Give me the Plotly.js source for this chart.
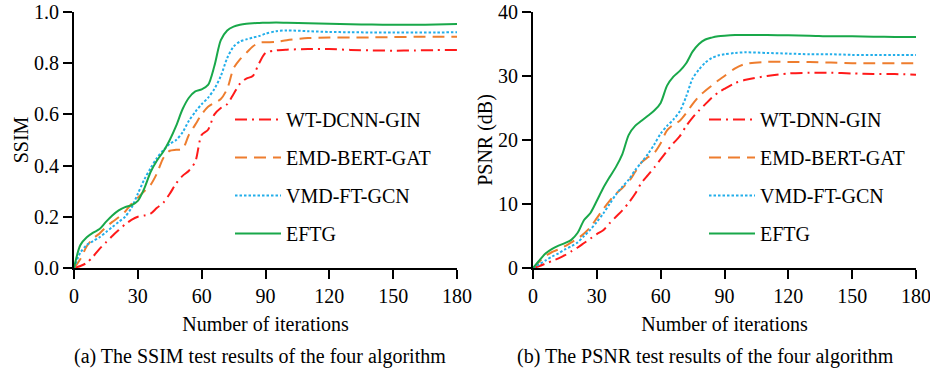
<!DOCTYPE html>
<html>
<head>
<meta charset="utf-8">
<script src="https://cdn.plot.ly/plotly-3.0.1.min.js"></script>
<style>html,body{margin:0;padding:0;background:#fff;}#chart{width:930px;height:370px;}</style>
</head>
<body>
<div id="chart"></div>
<script>
// Iterations (shared x positions)
const iterations = [0,3,6,9,12,15,18,21,24,27,30,33,36,39,42,45,48,51,54,57,60,63,66,69,72,75,78,81,84,87,90,95,100,110,120,130,140,150,160,170,180];

// (a) SSIM
const ssimWT   = [0,0.008,0.02,0.045,0.075,0.1,0.125,0.148,0.17,0.188,0.2,0.205,0.212,0.235,0.255,0.29,0.33,0.36,0.38,0.415,0.52,0.54,0.6,0.625,0.64,0.68,0.72,0.74,0.75,0.80,0.84,0.85,0.853,0.855,0.855,0.852,0.85,0.849,0.85,0.851,0.852];
const ssimEMD  = [0,0.035,0.085,0.115,0.135,0.16,0.18,0.198,0.22,0.25,0.275,0.3,0.325,0.37,0.43,0.458,0.462,0.465,0.52,0.56,0.6,0.63,0.645,0.66,0.70,0.78,0.815,0.84,0.865,0.88,0.882,0.883,0.89,0.898,0.90,0.90,0.901,0.902,0.903,0.903,0.903];
const ssimVMD  = [0,0.06,0.09,0.105,0.12,0.14,0.16,0.18,0.2,0.235,0.29,0.345,0.39,0.43,0.46,0.485,0.50,0.53,0.575,0.61,0.64,0.665,0.70,0.75,0.82,0.865,0.885,0.893,0.90,0.906,0.915,0.925,0.928,0.925,0.922,0.921,0.92,0.92,0.92,0.92,0.921];
const ssimEFTG = [0,0.09,0.12,0.138,0.152,0.18,0.205,0.225,0.238,0.245,0.262,0.31,0.375,0.42,0.455,0.50,0.555,0.62,0.665,0.69,0.698,0.715,0.79,0.89,0.928,0.943,0.95,0.954,0.956,0.957,0.958,0.959,0.958,0.956,0.954,0.952,0.951,0.95,0.95,0.951,0.953];

// (b) PSNR (dB)
const psnrWT   = [0,0.3,0.7,1.1,1.5,2.0,2.6,3.2,3.9,4.6,5.3,5.9,7.0,8.0,9.0,10.2,11.6,13.3,14.5,15.7,17.0,18.3,19.5,20.6,22.2,23.5,24.6,25.6,26.6,27.4,28.0,28.9,29.4,30.0,30.4,30.5,30.5,30.4,30.3,30.3,30.2];
const psnrEMD  = [0,1.0,1.9,2.5,2.9,3.4,4.0,4.6,5.4,6.4,7.8,9.2,10.5,11.6,12.5,13.5,15.0,16.5,17.3,18.0,19.5,21.5,22.4,23.0,24.2,25.6,26.8,27.7,28.5,29.3,30.0,31.2,31.9,32.2,32.2,32.2,32.1,32.0,32.0,32.0,32.0];
const psnrVMD  = [0,0.6,1.2,1.8,2.3,2.9,3.4,4.0,5.0,6.0,7.2,8.5,10.0,11.5,12.7,13.8,15.3,16.5,17.8,19.3,21.0,22.2,23.2,24.5,26.8,29.6,31.0,32.1,32.8,33.2,33.4,33.6,33.7,33.6,33.5,33.4,33.4,33.3,33.3,33.3,33.3];
const psnrEFTG = [0,1.2,2.3,3.0,3.5,3.9,4.4,5.5,7.5,8.6,10.5,12.5,14.2,15.8,17.8,20.8,22.2,23.0,23.8,24.6,25.8,28.5,29.9,30.8,32.0,33.8,35.0,35.7,36.0,36.2,36.3,36.4,36.4,36.4,36.35,36.3,36.2,36.2,36.15,36.1,36.1];

const namesA = ["WT-DCNN-GIN","EMD-BERT-GAT","VMD-FT-GCN","EFTG"];
const namesB = ["WT-DNN-GIN","EMD-BERT-GAT","VMD-FT-GCN","EFTG"];
const colors = ["#FF1A1A","#EE7D2E","#22AEEA","#19A84A"];
const dashes = ["12px,5px,2px,5px","12px,7px","2.5px,2px","solid"];

const FONT = "Liberation Serif, Times New Roman, serif";
const seriesA = [ssimWT, ssimEMD, ssimVMD, ssimEFTG];
const seriesB = [psnrWT, psnrEMD, psnrVMD, psnrEFTG];

const traces = [];
seriesA.forEach((ys,i)=>traces.push({
  x: iterations, y: ys, name: namesA[i], type:'scatter', mode:'lines',
  line:{color:colors[i], width:2, dash:dashes[i], shape:'spline', smoothing:0.8},
  xaxis:'x', yaxis:'y', legend:'legend', legendgroup:'a'+i
}));
seriesB.forEach((ys,i)=>traces.push({
  x: iterations, y: ys, name: namesB[i], type:'scatter', mode:'lines',
  line:{color:colors[i], width:2, dash:dashes[i], shape:'spline', smoothing:0.8},
  xaxis:'x2', yaxis:'y2', legend:'legend2', legendgroup:'b'+i
}));

const W = 930, H = 370;
const axisCommon = {
  showline:true, linecolor:'#000', linewidth:2, mirror:false,
  ticks:'outside', ticklen:9, tickwidth:2, tickcolor:'#000',
  showgrid:false, zeroline:false, ticklabeloverflow:'allow',
  tickfont:{family:FONT, size:20, color:'#000'}
};
const yDomain = [1-268/H, 1-12/H];

const legendCommon = {
  font:{family:FONT, size:20, color:'#000'},
  bgcolor:'rgba(0,0,0,0)', borderwidth:0,
  traceorder:'grouped', tracegroupgap:9,
  xanchor:'left', yanchor:'top', itemwidth:46
};

const layout = {
  width:W, height:H,
  margin:{l:0,r:0,t:0,b:0},
  paper_bgcolor:'#fff', plot_bgcolor:'#fff',
  showlegend:true,
  font:{family:FONT, size:20, color:'#000'},
  xaxis: Object.assign({}, axisCommon, {
    domain:[74/W, 457/W], range:[0,180], tickvals:[0,30,60,90,120,150,180],
    title:{text:'Number of iterations', font:{family:FONT,size:20,color:'#000'}, standoff:11},
    anchor:'y'
  }),
  yaxis: Object.assign({}, axisCommon, {
    domain:yDomain, range:[0,1], tickvals:[0,0.2,0.4,0.6,0.8,1.0], tickformat:'.1f',
    title:{text:'SSIM', font:{family:FONT,size:20,color:'#000'}, standoff:0},
    anchor:'x'
  }),
  xaxis2: Object.assign({}, axisCommon, {
    domain:[533/W, 916/W], range:[0,180], tickvals:[0,30,60,90,120,150,180],
    title:{text:'Number of iterations', font:{family:FONT,size:20,color:'#000'}, standoff:11},
    anchor:'y2'
  }),
  yaxis2: Object.assign({}, axisCommon, {
    domain:yDomain, range:[0,40], tickvals:[0,10,20,30,40],
    title:{text:'PSNR (dB)', font:{family:FONT,size:20,color:'#000'}, standoff:0},
    anchor:'x2'
  }),
  legend: Object.assign({}, legendCommon, {x:230/W, y:1-100/H}),
  legend2: Object.assign({}, legendCommon, {x:704/W, y:1-100/H}),
  annotations:[
    {text:'(a) The SSIM test results of the four algorithm', xref:'paper', yref:'paper',
     x:260/W, y:1-356/H, xanchor:'center', yanchor:'middle', showarrow:false,
     font:{family:FONT,size:20,color:'#000'}},
    {text:'(b) The PSNR test results of the four algorithm', xref:'paper', yref:'paper',
     x:705/W, y:1-356/H, xanchor:'center', yanchor:'middle', showarrow:false,
     font:{family:FONT,size:20,color:'#000'}}
  ]
};

Plotly.newPlot('chart', traces, layout, {displayModeBar:false, staticPlot:true});
</script>
</body>
</html>
